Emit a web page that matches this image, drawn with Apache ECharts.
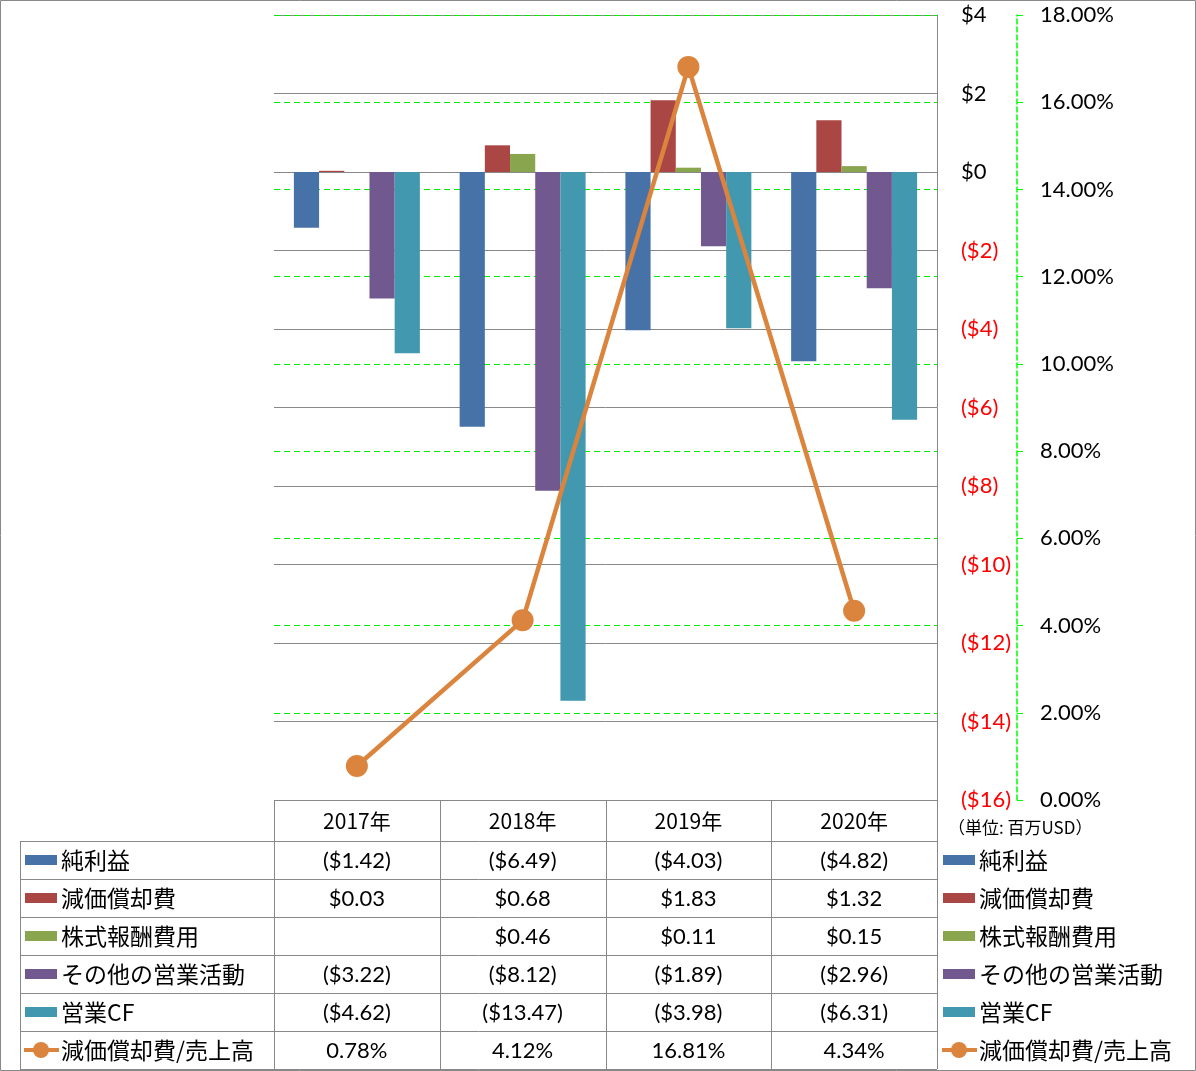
<!DOCTYPE html>
<html><head><meta charset="utf-8">
<script src="https://cdn.jsdelivr.net/npm/echarts@6/dist/echarts.min.js"></script>
<style>html,body{margin:0;padding:0;background:#fff}#c{width:1196px;height:1071px}</style>
</head><body><div id="c"></div>
<script>
const categories = ['2017年', '2018年', '2019年', '2020年'];
const netIncome = [-1.42, -6.49, -4.03, -4.82];
const depreciation = [0.03, 0.68, 1.83, 1.32];
const stockComp = [null, 0.46, 0.11, 0.15];
const otherOps = [-3.22, -8.12, -1.89, -2.96];
const operatingCF = [-4.62, -13.47, -3.98, -6.31];
const depRatio = [0.78, 4.12, 16.81, 4.34];
const seriesNames = ['純利益', '減価償却費', '株式報酬費用', 'その他の営業活動', '営業CF', '減価償却費/売上高'];
const unitLabel = '（単位: 百万USD）';

const colors = ['#4672A8', '#AA4643', '#89A54E', '#71588F', '#4198AF', '#DB843D'];
const numFont = 'Lato, "Liberation Sans", sans-serif';
const cjkFont = '"Noto Sans CJK JP", sans-serif';

function money(v) {
  if (v === null || v === undefined) return '';
  return v < 0 ? '($' + Math.abs(v).toFixed(2) + ')' : '$' + v.toFixed(2);
}
function moneyAxis(v) {
  return v < 0 ? '($' + Math.abs(v) + ')' : '$' + v;
}
function pct(v) { return v.toFixed(2) + '%'; }

const barData = [netIncome, depreciation, stockComp, otherOps, operatingCF];
const chart = echarts.init(document.getElementById('c'));

const series = barData.map((d, i) => ({
  name: seriesNames[i], type: 'bar', data: d, yAxisIndex: 0,
  barGap: 0, barCategoryGap: '24%',
  itemStyle: { color: colors[i] }
}));
series.push({
  name: seriesNames[5], type: 'line', data: depRatio, yAxisIndex: 1,
  symbol: 'circle', symbolSize: 22,
  lineStyle: { color: colors[5], width: 4.5 },
  itemStyle: { color: colors[5] }, z: 5
});

chart.setOption({
  animation: false,
  grid: { left: 274, right: 259, top: 15, bottom: 271 },
  xAxis: {
    type: 'category', data: categories,
    axisLine: { show: false }, axisTick: { show: false }, axisLabel: { show: false }
  },
  yAxis: [
    {
      type: 'value', position: 'right', min: -16, max: 4, interval: 2,
      axisLine: { show: true, lineStyle: { color: '#888', width: 1 } },
      axisTick: { show: false },
      splitLine: { show: true, lineStyle: { color: '#888', width: 1 } },
      axisLabel: {
        margin: 24, fontSize: 22, fontFamily: numFont,
        formatter: moneyAxis,
        color: (v) => (Number(v) < 0 ? '#FF0000' : '#000')
      }
    },
    {
      type: 'value', position: 'right', offset: 80, min: 0, max: 18, interval: 2,
      axisLine: { show: true, lineStyle: { color: '#00FF00', width: 1.5, type: [5, 3] } },
      axisTick: { show: true, length: 6, lineStyle: { color: '#00FF00', width: 1 } },
      splitLine: { show: true, lineStyle: { color: '#00EE00', width: 1, type: [6, 4] } },
      axisLabel: { margin: 23, fontSize: 22, fontFamily: numFont, color: '#000', formatter: pct }
    }
  ],
  series: series
});

// Data table and legends
const g = [];
const lineColor = '#888';
const xs = categories.map((c, i) => chart.convertToPixel({ xAxisIndex: 0 }, i));
const band = xs.length > 1 ? xs[1] - xs[0] : 166;
const colEdges = [xs[0] - band / 2].concat(xs.map(x => x + band / 2));
const tableTop = 800, headerBottom = 841, rowH = 38, legendLeft = 20;
const tableRight = colEdges[colEdges.length - 1];
const nRows = seriesNames.length;

function hline(y, x1, x2) {
  g.push({ type: 'line', shape: { x1: x1, y1: y + 0.5, x2: x2, y2: y + 0.5 }, style: { stroke: lineColor, lineWidth: 1 }, silent: true });
}
function vline(x, y1, y2) {
  g.push({ type: 'line', shape: { x1: Math.round(x) + 0.5, y1: y1, x2: Math.round(x) + 0.5, y2: y2 }, style: { stroke: lineColor, lineWidth: 1 }, silent: true });
}
function text(t, x, y, align, font, size, color) {
  g.push({ type: 'text', x: x, y: y, silent: true,
    style: { text: t, align: align, verticalAlign: 'middle', font: size + 'px ' + font, fill: color || '#000' } });
}

const tableBottom = headerBottom + rowH * nRows;
hline(tableTop, colEdges[0], tableRight);
for (let r = 0; r <= nRows; r++) hline(headerBottom + r * rowH, legendLeft, tableRight);
vline(legendLeft, headerBottom, tableBottom);
colEdges.forEach(x => vline(x, tableTop, tableBottom));

// header
categories.forEach((c, i) => text(c, xs[i], (tableTop + headerBottom) / 2 + 1, 'center', cjkFont, 21));

const rowsData = [netIncome, depreciation, stockComp, otherOps, operatingCF, depRatio];
rowsData.forEach((d, r) => {
  const yc = headerBottom + r * rowH + rowH / 2;
  d.forEach((v, i) => {
    const t = r === 5 ? pct(v) : money(v);
    text(t, xs[i], yc + 1, 'center', numFont, 22);
  });
});

function legendItem(x, yc, idx) {
  if (idx < 5) {
    g.push({ type: 'rect', shape: { x: x, y: yc - 5, width: 32, height: 10 }, style: { fill: colors[idx] }, silent: true });
  } else {
    g.push({ type: 'line', shape: { x1: x - 1, y1: yc, x2: x + 34, y2: yc }, style: { stroke: colors[5], lineWidth: 4 }, silent: true });
    g.push({ type: 'circle', shape: { cx: x + 16, cy: yc, r: 8 }, style: { fill: colors[5] }, silent: true });
  }
  text(seriesNames[idx], x + 36, yc, 'left', cjkFont, 23);
}
for (let r = 0; r < nRows; r++) {
  const yc = headerBottom + r * rowH + rowH / 2;
  legendItem(25, yc, r);
  legendItem(943, yc, r);
}

text(unitLabel, 948, 828, 'left', cjkFont, 17);

// outer border
g.push({ type: 'rect', shape: { x: 0.5, y: 0.5, width: 1195, height: 1070 }, style: { fill: null, stroke: lineColor, lineWidth: 1 }, silent: true });

chart.setOption({ graphic: g });
</script>
</body></html>
